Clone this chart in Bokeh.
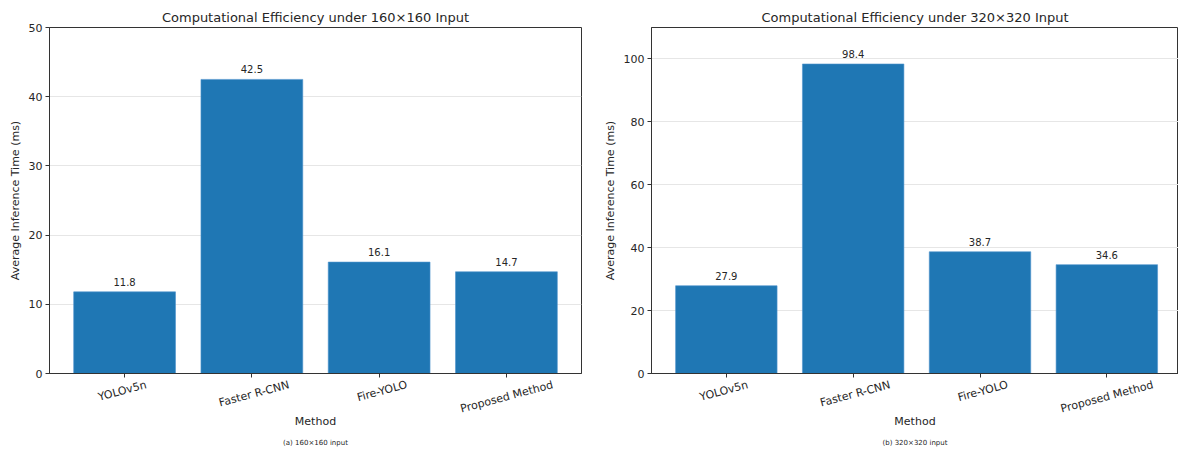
import math
from bokeh.plotting import figure
from bokeh.layouts import row
from bokeh.models import (ColumnDataSource, Range1d, FixedTicker, LinearAxis, Title)
from bokeh.embed import file_html
from bokeh.resources import INLINE
from bokeh.core.properties import value

methods = ["YOLOv5n", "Faster R-CNN", "Fire-YOLO", "Proposed Method"]
times_160 = [11.8, 42.5, 16.1, 14.7]
times_320 = [27.9, 98.4, 38.7, 34.6]
titles = ["Computational Efficiency under 160\u00d7160 Input",
          "Computational Efficiency under 320\u00d7320 Input"]
captions = ["(a) 160\u00d7160 input", "(b) 320\u00d7320 input"]
ymax = [50, 110]
yticks = [[0, 10, 20, 30, 40, 50], [0, 20, 40, 60, 80, 100]]

FONT = "DejaVu Sans"
BAR = "#1f77b4"
TXT = "#262626"
SPINE = "#333333"
H = 452
ANG = math.radians(15)


def style_axis(ax):
    ax.major_label_text_font = FONT
    ax.major_label_text_color = TXT
    ax.axis_label_text_font = FONT
    ax.axis_label_text_font_size = "11px"
    ax.axis_label_text_font_style = "normal"
    ax.axis_label_text_color = TXT
    ax.axis_line_color = SPINE
    ax.major_tick_line_color = SPINE
    ax.major_tick_out = 4
    ax.major_tick_in = 0
    ax.minor_tick_line_color = None


def make(i, vals, width, bl, br, xend):
    xs = list(range(len(methods)))
    src = ColumnDataSource(dict(x=xs, top=vals, lab=["%.1f" % v for v in vals]))
    p = figure(width=width, height=H, output_backend="svg", toolbar_location=None,
               x_range=Range1d(-0.59, xend), y_range=Range1d(0, ymax[i]),
               min_border_left=bl, min_border_right=br, min_border_top=27,
               min_border_bottom=79, title=titles[i], x_axis_location=None)
    p.title.text_font = FONT
    p.title.text_font_size = "13px"
    p.title.text_font_style = "normal"
    p.title.align = "center"
    p.title.text_color = TXT
    p.title.standoff = 5
    p.vbar(x="x", top="top", width=0.8, source=src, fill_color=BAR, line_color="#4f94cc",
           line_width=0.6)
    p.text(x="x", y="top", text="lab", source=src, text_align="center",
           text_baseline="bottom", y_offset=-6, text_font=value(FONT),
           text_font_size="10px", text_color=TXT)

    # tick marks axis
    ax_a = LinearAxis(ticker=FixedTicker(ticks=xs),
                      major_label_overrides={k: "" for k in xs})
    style_axis(ax_a)
    ax_a.major_label_text_font_size = "0px"
    ax_a.major_label_standoff = 0
    p.add_layout(ax_a, "below")

    # rotated labels axis, ticks shifted so that each label is centred on its bar
    px_per_unit = (width - bl - br) / (xend + 0.59)
    shifts = [0.5 * (len(m) * 6.4 * math.cos(ANG)) / px_per_unit for m in methods]
    pos = [k + s for k, s in zip(xs, shifts)]
    ax_b = LinearAxis(ticker=FixedTicker(ticks=pos),
                      major_label_overrides={pv: m for pv, m in zip(pos, methods)})
    style_axis(ax_b)
    ax_b.axis_line_color = None
    ax_b.major_tick_line_color = None
    ax_b.major_tick_out = 0
    ax_b.major_label_text_font_size = "11px"
    ax_b.major_label_orientation = ANG
    ax_b.major_label_standoff = 7
    ax_b.axis_label = "Method"
    ax_b.axis_label_standoff = -10
    p.add_layout(ax_b, "below")

    p.yaxis.ticker = FixedTicker(ticks=yticks[i])
    style_axis(p.yaxis[0])
    p.yaxis.major_label_text_font_size = "11px"
    p.yaxis.axis_label = "Average Inference Time (ms)"
    p.yaxis.major_label_standoff = 3
    p.yaxis.axis_label_standoff = 4
    p.xgrid.grid_line_color = None
    p.ygrid.grid_line_color = "#e6e6e6"
    p.ygrid.ticker = FixedTicker(ticks=yticks[i])
    p.outline_line_color = SPINE
    p.outline_line_width = 1

    cap = Title(text=captions[i], align="center", text_font=FONT, text_font_size="7px",
                text_font_style="normal", text_color=TXT, standoff=12)
    p.add_layout(cap, "below")
    return p


p1 = make(0, times_160, 600, 49, 19, 3.59)
p2 = make(1, times_320, 578, 49, 0, 3.565)
layout = row(p1, p2, spacing=0)

open("out.html", "w").write(file_html(layout, INLINE))
